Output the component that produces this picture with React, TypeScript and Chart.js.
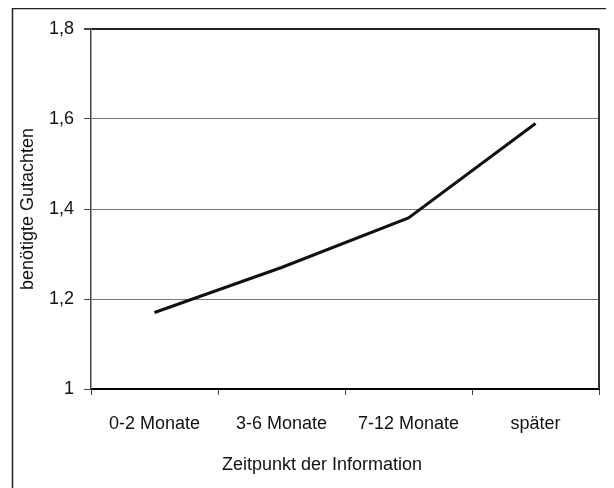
import React, { useEffect, useRef } from "react";
import { Chart, registerables } from "chart.js";

Chart.register(...registerables);

const categories = ["0-2 Monate", "3-6 Monate", "7-12 Monate", "später"];
const values = [1.17, 1.27, 1.38, 1.59];
const yMin = 1;
const yMax = 1.8;
const yStep = 0.2;
const yTitle = "benötigte Gutachten";
const xTitle = "Zeitpunkt der Information";

const FONT = "'Liberation Sans', Arial, sans-serif";

const framePlugin = {
  id: "frame",
  afterDraw(chart: any) {
    const ctx = chart.ctx;
    const a = chart.chartArea;
    ctx.save();
    ctx.strokeStyle = "#222";
    ctx.lineWidth = 1.5;
    ctx.strokeRect(12.5, 8.5, chart.width + 20, chart.height + 20);
    ctx.strokeStyle = "#333";
    ctx.lineWidth = 2;
    ctx.beginPath();
    ctx.moveTo(a.right, a.top - 0.5);
    ctx.lineTo(a.right, a.bottom);
    ctx.stroke();
    ctx.fillStyle = "#111";
    ctx.font = `18px ${FONT}`;
    ctx.textAlign = "center";
    ctx.textBaseline = "middle";
    ctx.fillText(xTitle, 322, 465);
    ctx.restore();
  },
};

export default function App() {
  const ref = useRef<HTMLCanvasElement | null>(null);
  useEffect(() => {
    if (!ref.current) return;
    const chart = new Chart(ref.current, {
      type: "line",
      data: {
        labels: categories,
        datasets: [
          {
            data: values,
            borderColor: "#111",
            borderWidth: 3,
            pointRadius: 0,
            tension: 0,
            fill: false,
          },
        ],
      },
      options: {
        animation: false,
        responsive: true,
        maintainAspectRatio: false,
        layout: { padding: { top: 29, right: 15, left: 0, bottom: 0 } },
        plugins: { legend: { display: false }, tooltip: { enabled: false } },
        scales: {
          x: {
            offset: true,
            afterFit: (s: any) => {
              s.height = 99;
            },
            grid: {
              offset: true,
              drawOnChartArea: false,
              drawTicks: true,
              tickLength: 6,
              tickColor: "#444",
            },
            border: { color: "#000", width: 2 },
            ticks: {
              padding: 18,
              color: "#111",
              font: { family: FONT, size: 18 },
              maxRotation: 0,
            },
            title: { display: false },
          },
          y: {
            min: yMin,
            max: yMax,
            afterFit: (s: any) => {
              s.width = 91;
            },
            grid: {
              color: (c: any) =>
                c.tick && Math.abs(c.tick.value - yMax) < 1e-6 ? "#222" : "#777",
              lineWidth: (c: any) =>
                c.tick && Math.abs(c.tick.value - yMax) < 1e-6 ? 2 : 1,
              tickLength: 7,
              tickColor: "#444",
            },
            border: { color: "#444", width: 1.5 },
            ticks: {
              stepSize: yStep,
              padding: 10,
              color: "#111",
              font: { family: FONT, size: 18 },
              callback: (v: any) => {
                const n = Math.round(Number(v) * 10) / 10;
                return String(n).replace(".", ",");
              },
            },
            title: {
              display: true,
              text: yTitle,
              color: "#111",
              font: { family: FONT, size: 18 },
              padding: { top: 17, bottom: 0 },
            },
          },
        },
      },
      plugins: [framePlugin],
    });
    return () => chart.destroy();
  }, []);
  return (
    <div style={{ width: 614, height: 488, margin: "-8px 0 0 -8px", position: "relative", background: "#fff" }}>
      <canvas ref={ref} />
    </div>
  );
}
